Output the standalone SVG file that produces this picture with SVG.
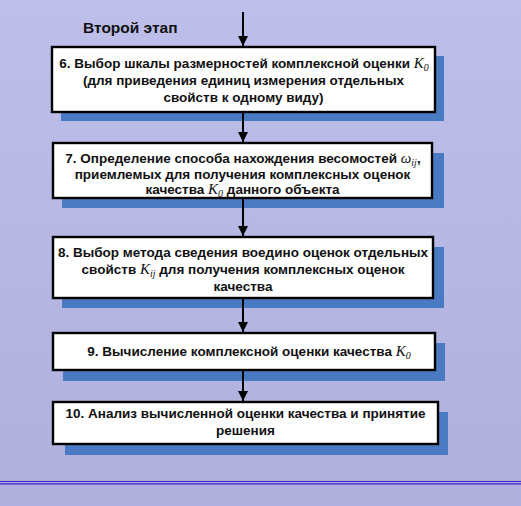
<svg xmlns="http://www.w3.org/2000/svg" width="521" height="506" viewBox="0 0 521 506">
  <defs>
    <linearGradient id="bg" x1="0" y1="0" x2="0" y2="1">
      <stop offset="0" stop-color="#bebeea"/>
      <stop offset="1" stop-color="#b0b0de"/>
    </linearGradient>
    <marker id="arrow" viewBox="0 0 10 10" refX="10" refY="5" markerWidth="5" markerHeight="5" markerUnits="strokeWidth" orient="auto">
      <path d="M0,0 L10,5 L0,10 z" fill="#000"/>
    </marker>
    <style>
      .shadow { fill: #4a7bc2; }
      .box { fill: #fff; stroke: #000; stroke-width: 2.4; }
      .t { font-family: "Liberation Sans", Arial, sans-serif; font-weight: bold; font-size: 13.5px; fill: #111; text-anchor: middle; }
      .m { font-family: "Liberation Serif", "Times New Roman", serif; font-style: italic; font-weight: normal; font-size: 15px; }
      .sub { font-size: 10px; }
      .title { font-family: "Liberation Sans", Arial, sans-serif; font-weight: bold; font-size: 15.5px; fill: #111; }
      .conn { stroke: #000; stroke-width: 2; fill: none; marker-end: url(#arrow); }
      .rule { stroke: #3a1fc8; stroke-width: 1.2; }
    </style>
  </defs>

  <rect width="521" height="506" fill="url(#bg)"/>

  <text class="title" x="83" y="33">Второй этап</text>

  <g id="step6">
    <rect class="shadow" x="61" y="56" width="383" height="65"/>
    <rect class="box" x="52" y="47" width="383" height="65"/>
    <text class="t" x="244" y="68">6. Выбор шкалы размерностей комплексной оценки <tspan class="m">K</tspan><tspan class="m sub" dy="3">0</tspan></text>
    <text class="t" x="243.5" y="85">(для приведения единиц измерения отдельных</text>
    <text class="t" x="243.5" y="102">свойств к одному виду)</text>
  </g>

  <g id="step7">
    <rect class="shadow" x="62" y="153" width="382" height="55"/>
    <rect class="box" x="53" y="143" width="379" height="55"/>
    <text class="t" x="243" y="163">7. Определение способа нахождения весомостей <tspan class="m">ω</tspan><tspan class="m sub" dy="3">ij</tspan><tspan dy="-3">,</tspan></text>
    <text class="t" x="242.5" y="178.5">приемлемых для получения комплексных оценок</text>
    <text class="t" x="242.5" y="194">качества <tspan class="m">K</tspan><tspan class="m sub" dy="3">0</tspan><tspan dy="-3"> данного объекта</tspan></text>
  </g>

  <g id="step8">
    <rect class="shadow" x="62" y="247" width="382" height="61"/>
    <rect class="box" x="53" y="237" width="380" height="61"/>
    <text class="t" x="243" y="257">8. Выбор метода сведения воедино оценок отдельных</text>
    <text class="t" x="243" y="274">свойств <tspan class="m">K</tspan><tspan class="m sub" dy="3">ij</tspan><tspan dy="-3"> для получения комплексных оценок</tspan></text>
    <text class="t" x="243" y="291">качества</text>
  </g>

  <g id="step9">
    <rect class="shadow" x="63" y="343" width="382" height="38"/>
    <rect class="box" x="53" y="333" width="382" height="37"/>
    <text class="t" x="249" y="356">9. Вычисление комплексной оценки качества <tspan class="m">K</tspan><tspan class="m sub" dy="3">0</tspan></text>
  </g>

  <g id="step10">
    <rect class="shadow" x="65" y="412" width="383" height="43"/>
    <rect class="box" x="53" y="402" width="385" height="42"/>
    <text class="t" x="245.5" y="418">10. Анализ вычисленной оценки качества и принятие</text>
    <text class="t" x="245.5" y="435">решения</text>
  </g>

  <g id="connectors">
    <line class="conn" x1="243" y1="12" x2="243" y2="46"/>
    <line class="conn" x1="243" y1="113" x2="243" y2="142"/>
    <line class="conn" x1="243" y1="199" x2="243" y2="236"/>
    <line class="conn" x1="243" y1="299" x2="243" y2="332"/>
    <line class="conn" x1="243" y1="371" x2="243" y2="401"/>
  </g>

  <line class="rule" x1="0" y1="481.5" x2="521" y2="481.5"/>
  <line class="rule" x1="0" y1="483.8" x2="521" y2="483.8"/>
</svg>
